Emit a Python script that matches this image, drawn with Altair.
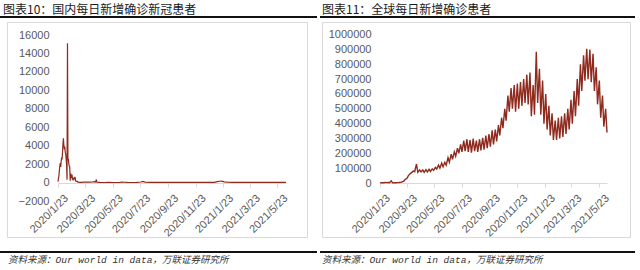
import altair as alt
import pandas as pd

# ---------------- data ----------------
# Left panel: China daily new confirmed cases
cn_dates = [
    "2020-01-23", "2020-01-24", "2020-01-25", "2020-01-26", "2020-01-27", "2020-01-28",
    "2020-01-29", "2020-01-30", "2020-01-31", "2020-02-01", "2020-02-02", "2020-02-03",
    "2020-02-04", "2020-02-05", "2020-02-06", "2020-02-07", "2020-02-08", "2020-02-09",
    "2020-02-10", "2020-02-11", "2020-02-12", "2020-02-13", "2020-02-14", "2020-02-15",
    "2020-02-16", "2020-02-17", "2020-02-18", "2020-02-19", "2020-02-20", "2020-02-21",
    "2020-02-22", "2020-02-23", "2020-02-24", "2020-02-25", "2020-02-26", "2020-02-27",
    "2020-02-28", "2020-02-29", "2020-03-01", "2020-03-02", "2020-03-03", "2020-03-04",
    "2020-03-05", "2020-03-06", "2020-03-07", "2020-03-08", "2020-03-10", "2020-03-15",
    "2020-03-20", "2020-03-25", "2020-04-01", "2020-04-08", "2020-04-12", "2020-04-15",
    "2020-04-17", "2020-04-18", "2020-04-25", "2020-05-05", "2020-05-15", "2020-05-25",
    "2020-06-05", "2020-06-13", "2020-06-18", "2020-06-25", "2020-07-05", "2020-07-15",
    "2020-07-25", "2020-07-29", "2020-08-03", "2020-08-15", "2020-09-01", "2020-09-15",
    "2020-10-01", "2020-10-15", "2020-10-25", "2020-11-10", "2020-11-25", "2020-12-10",
    "2020-12-25", "2021-01-03", "2021-01-10", "2021-01-15", "2021-01-20", "2021-01-25",
    "2021-02-01", "2021-02-10", "2021-03-01", "2021-03-20", "2021-04-01", "2021-04-15",
    "2021-05-01", "2021-05-15", "2021-06-01", "2021-06-11",
]
cn_cases = [
    100, 450, 700, 1300, 1800, 2100,
    1700, 2300, 2700, 2500, 3300, 4200,
    4800, 4000, 3600, 3900, 3300, 3100,
    2600, 2000, 300, 15100, 2600, 2500,
    2000, 1800, 1700, 200, 1000, 500,
    650, 860, 400, 500, 420, 320,
    430, 570, 540, 200, 120, 130,
    140, 100, 50, 40, 20, 25,
    40, 60, 40, 60, 100, 50,
    330, 30, 15, 5, 10, 5,
    5, 50, 35, 15, 5, 10,
    60, 125, 50, 25, 10, 15,
    20, 20, 30, 20, 20, 20,
    20, 30, 100, 140, 150, 80,
    40, 15, 10, 15, 20, 20,
    15, 20, 30, 25,
]

# Right panel: world daily new confirmed cases, weekly trough / peak
world_start = "2020-01-23"
world_low = [
    600, 2000, 2800, 2000, 1000, 1500, 3000, 8000, 25000, 50000,
    70000, 76000, 72000, 75000, 72000, 75000, 78000, 85000, 95000, 100000,
    110000, 120000, 140000, 160000, 180000, 200000, 210000, 215000, 210000, 205000,
    215000, 210000, 220000, 225000, 235000, 245000, 260000, 280000, 320000, 370000,
    420000, 480000, 500000, 480000, 500000, 520000, 540000, 530000, 450000, 460000,
    540000, 460000, 400000, 360000, 320000, 290000, 290000, 300000, 310000, 330000,
    360000, 400000, 450000, 520000, 620000, 690000, 700000, 680000, 620000, 530000,
    440000, 380000,
]
world_high = [
    2000, 3500, 3800, 15000, 2000, 2500, 4500, 12000, 32000, 62000,
    80000, 128000, 88000, 88000, 90000, 92000, 95000, 105000, 120000, 135000,
    140000, 170000, 195000, 210000, 235000, 260000, 285000, 295000, 290000, 300000,
    285000, 295000, 305000, 320000, 330000, 355000, 360000, 390000, 440000, 500000,
    590000, 640000, 660000, 670000, 680000, 700000, 730000, 745000, 660000, 885000,
    770000, 690000, 600000, 520000, 470000, 420000, 440000, 450000, 470000, 500000,
    560000, 620000, 700000, 800000, 860000, 905000, 900000, 870000, 780000, 690000,
    590000, 500000,
]
world_end_date = "2021-06-10"
world_end_value = 340000

tick_dates = ["2020-01-23", "2020-03-23", "2020-05-23", "2020-07-23", "2020-09-23",
              "2020-11-23", "2021-01-23", "2021-03-23", "2021-05-23"]
cn_y_ticks = [-2000, 0, 2000, 4000, 6000, 8000, 10000, 12000, 14000, 16000]
world_y_ticks = [0, 100000, 200000, 300000, 400000, 500000, 600000, 700000, 800000,
                 900000, 1000000]

title_left = "图表10：国内每日新增确诊新冠患者"
title_right = "图表11：全球每日新增确诊患者"
source_text = "资料来源：Our world in data，万联证券研究所"

# ---------------- tables ----------------
cn_df = pd.DataFrame({"date": cn_dates, "cases": cn_cases})

starts = pd.date_range(world_start, periods=len(world_low), freq="7D")
w_dates, w_vals = [], []
for s, lo, hi in zip(starts, world_low, world_high):
    w_dates.append(s.strftime("%Y-%m-%d"))
    w_vals.append(lo)
    w_dates.append((s + pd.Timedelta(days=4)).strftime("%Y-%m-%d"))
    w_vals.append(hi)
w_dates.append(world_end_date)
w_vals.append(world_end_value)
world_df = pd.DataFrame({"date": w_dates, "cases": w_vals})


def dt(s):
    y, m, d = (int(p) for p in s.split("-"))
    return alt.DateTime(year=y, month=m, date=d, utc=True)


tick_vals = [dt(s) for s in tick_dates]

RED = "#8E2A1E"
GREY = "#d9d9d9"
LABEL = "#595959"
FONT = "Liberation Sans"


def x_axis():
    return alt.Axis(orient="bottom", offset=-87, values=tick_vals, format="%Y/%-m/%-d",
                    labelAngle=-45, labelAlign="right", labelBaseline="top",
                    labelOffset=4, labelPadding=5, tickSize=4, tickColor=GREY,
                    domainColor=GREY, grid=False, title=None, labelOverlap=False,
                    labelFlush=False, labelBound=False, labelColor=LABEL,
                    labelFont=FONT, labelFontSize=11)


cn_line = alt.Chart(cn_df).mark_line(color=RED, strokeWidth=1.2).encode(
    x=alt.X("date:T", axis=x_axis(),
            scale=alt.Scale(type="utc", domain=[dt("2020-01-23"), dt("2021-06-11")],
                            range=[58, 286], nice=False)),
    y=alt.Y("cases:Q",
            axis=alt.Axis(orient="left", offset=-58, ticks=False, domain=False, grid=False,
                          title=None, labelPadding=9, labelColor=LABEL, labelFont=FONT,
                          labelFontSize=11, format="d", values=cn_y_ticks,
                          labelOverlap=False, labelFlush=False),
            scale=alt.Scale(domain=[-2000, 16000], range=[201, 35], nice=False, zero=False)),
)

world_line = alt.Chart(world_df).mark_line(color=RED, strokeWidth=1.4).encode(
    x=alt.X("date:T", axis=x_axis(),
            scale=alt.Scale(type="utc", domain=[dt("2020-01-23"), dt("2021-06-10")],
                            range=[380, 607], nice=False)),
    y=alt.Y("cases:Q",
            axis=alt.Axis(orient="left", offset=-380, ticks=False, domain=False, grid=False,
                          title=None, labelPadding=9, labelColor=LABEL, labelFont=FONT,
                          labelFontSize=11, format="d", values=world_y_ticks,
                          labelOverlap=False, labelFlush=False),
            scale=alt.Scale(domain=[0, 1000000], range=[183, 34.6], nice=False)),
)

one = alt.Data(values=[{}])


def frame(x1, x2):
    return alt.Chart(one).mark_rect(fillOpacity=0, stroke=GREY, strokeWidth=1).encode(
        x=alt.value(x1), x2=alt.value(x2), y=alt.value(22.5), y2=alt.value(237.5))


def hrule(x1, x2, y):
    return alt.Chart(one).mark_rule(color="#111111", strokeWidth=2).encode(
        x=alt.value(x1), x2=alt.value(x2), y=alt.value(y))


def title(x, text):
    return alt.Chart(one).mark_text(align="left", baseline="middle", fontSize=12,
                                    font="Noto Sans CJK SC", color="#1a1a1a").encode(
        x=alt.value(x), y=alt.value(9.5), text=alt.value(text))


def footer(x):
    return alt.Chart(one).mark_text(align="left", baseline="middle", fontSize=9.5,
                                    font="Liberation Mono, Noto Sans CJK SC",
                                    fontStyle="italic", color="#333333").encode(
        x=alt.value(x), y=alt.value(260), text=alt.value(source_text))


chart = alt.layer(
    frame(7.5, 307.5), frame(322.5, 630.5),
    hrule(0, 317, 17), hrule(320, 635, 17),
    hrule(0, 317, 252), hrule(320, 635, 252),
    title(3, title_left), title(322, title_right),
    footer(8), footer(322),
    cn_line, world_line,
).resolve_scale(x="independent", y="independent").properties(
    width=640, height=270, padding=0,
    autosize=alt.AutoSizeParams(type="none"),
    background="white",
).configure_view(strokeOpacity=0)

chart.save("out.html", embed_options={"renderer": "svg", "actions": False})
